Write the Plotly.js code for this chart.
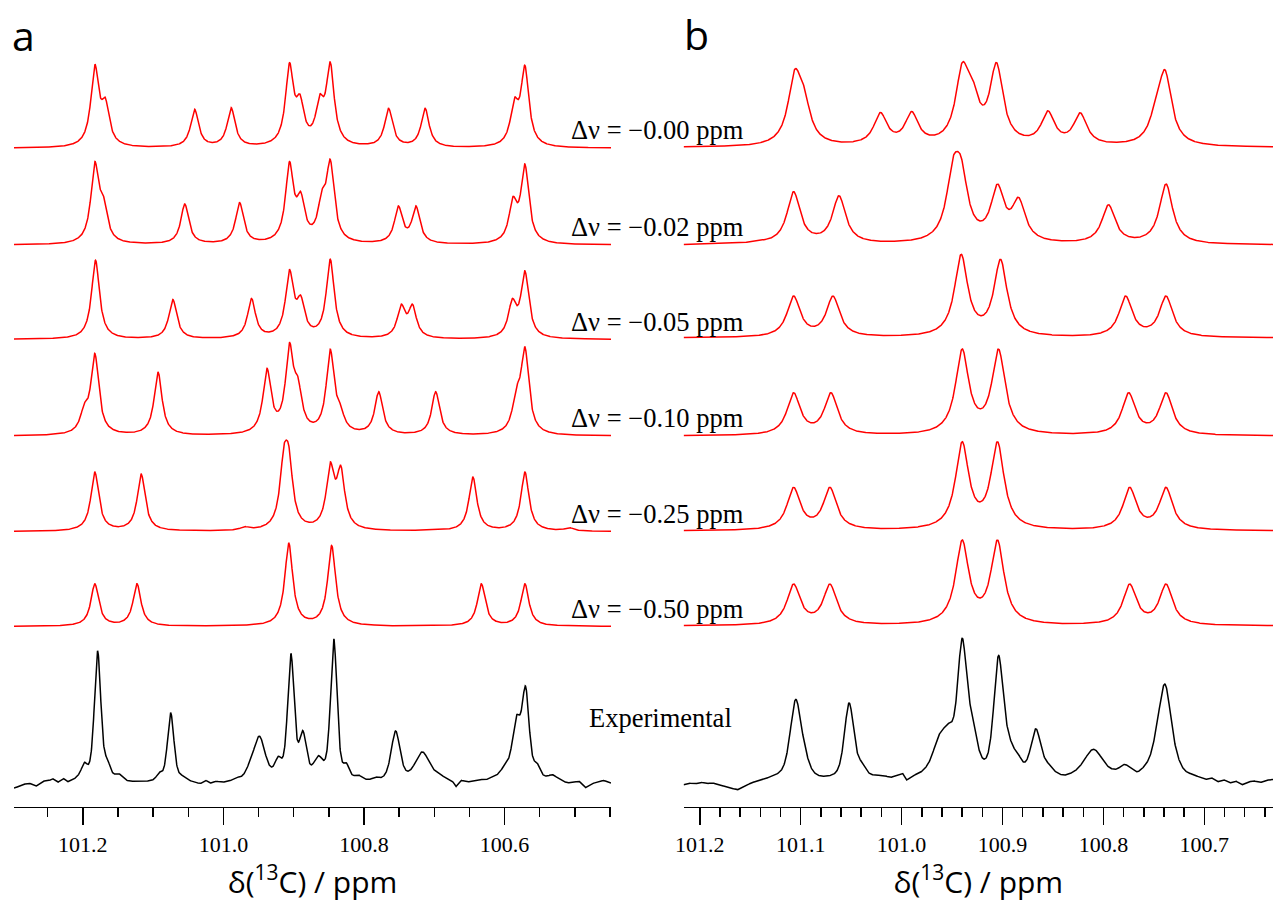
<!DOCTYPE html>
<html>
<head>
<meta charset="utf-8">
<script src="https://cdn.plot.ly/plotly-3.0.1.min.js"></script>
<style>html,body{margin:0;padding:0;background:#fff;}#chart{width:1273px;height:904px;}</style>
</head>
<body>
<div id="chart"></div>
<script>
// ================= DATA =================
// Labels of the simulated spectra
const deltaNuLabels = ["Δν = −0.00 ppm", "Δν = −0.02 ppm", "Δν = −0.05 ppm", "Δν = −0.10 ppm", "Δν = −0.25 ppm", "Δν = −0.50 ppm"];
const expLabel = "Experimental";
const panelLetters = ["a", "b"];

// Panel a, simulated spectra: peak positions (ppm) and observed peak heights (arb. units)
const simA1Pos = [101.183, 101.168, 101.041, 100.989, 100.906, 100.891, 100.863, 100.848, 100.765, 100.713, 100.586, 100.571];
const simA1Hgt = [84, 50.6, 39, 40.6, 85.6, 54, 54, 86.3, 40, 40, 50.6, 83];
const simA2Pos = [101.183, 101.171, 101.055, 100.977, 100.906, 100.890, 100.860, 100.848, 100.751, 100.726, 100.588, 100.571];
const simA2Hgt = [83.4, 50, 41, 42.4, 83.4, 53.4, 55, 85.7, 39, 39, 48.4, 81];
const simA3Pos = [101.182, 101.072, 100.960, 100.906, 100.890, 100.848, 100.747, 100.731, 100.589, 100.571];
const simA3Hgt = [79.3, 40, 41, 70, 44.3, 80.3, 35.3, 35.3, 41, 68.6];
const simA4Pos = [101.198, 101.183, 101.093, 100.938, 100.906, 100.894, 100.848, 100.834, 100.779, 100.698, 100.583, 100.571];
const simA4Hgt = [32.7, 82.7, 63.7, 67.7, 93.3, 59.3, 86.7, 32.7, 44.3, 44.3, 50, 89.3];
const simA5Pos = [101.183, 101.117, 100.970, 100.914, 100.907, 100.848, 100.833, 100.721, 100.645, 100.571, 100.508];
const simA5Hgt = [59.4, 57.4, 5, 86, 86, 69.4, 66, 1.5, 54.4, 59.4, 4];
const simA6Pos = [101.183, 101.123, 100.907, 100.846, 100.633, 100.571];
const simA6Hgt = [42.7, 42.7, 83.4, 81, 42.7, 42.7];
const simWidthA = 0.0068;   // half width at half maximum, ppm

// Panel a, experimental spectrum
const expAPos = [101.198, 101.179, 101.165, 101.149, 101.091, 101.075, 101.059, 101.026, 100.981, 100.963, 100.949, 100.922, 100.904, 100.887, 100.865, 100.843, 100.825, 100.808, 100.784, 100.755, 100.717, 100.695, 100.599, 100.583, 100.570, 100.554, 100.532];
const expAHgt = [18, 130, 23, 9, 11, 70, 8, 5, 5, 20, 46, 26, 129, 52, 27, 144, 20, 8, 6, 51, 29, 8, 16, 65, 94, 18, 6];
const expAWid = [0.005, 0.0055, 0.005, 0.006, 0.005, 0.0055, 0.006, 0.004, 0.004, 0.007, 0.010, 0.006, 0.0055, 0.006, 0.008, 0.0055, 0.005, 0.006, 0.005, 0.0075, 0.012, 0.006, 0.008, 0.007, 0.006, 0.005, 0.006];
const expABasePpm = [101.297, 101.289, 101.277, 101.267, 101.257, 101.248, 101.243, 101.236, 101.228, 101.222, 101.213, 101.207, 101.140, 101.120, 101.105, 101.042, 101.033, 101.019, 101.010, 101.002, 100.993, 100.984, 100.800, 100.790, 100.685, 100.674, 100.669, 100.662, 100.653, 100.645, 100.636, 100.627, 100.618, 100.523, 100.511, 100.502, 100.494, 100.485, 100.476, 100.467, 100.459, 100.449];
const expABaseVal = [-5.3, -2.7, -0.3, -3.7, 1.3, 1.7, 3.7, -0.3, 3.7, -0.3, 1.3, 3, 0, 0, 0, -0.3, -2.7, -2, 0.3, -1, -0.3, 1, 0, 0, 3, -0.3, -5.3, 1.3, -0.3, 0.7, 2.3, 1.3, 3, 2.3, -1, -0.3, 1.3, -5.3, -1, 0.3, 2.3, -0.3];

// Panel b, simulated spectra
const simB1Pos = [101.106, 101.097, 101.021, 100.990, 100.940, 100.930, 100.906, 100.855, 100.823, 100.748, 100.739];
const simB1Hgt = [78, 62, 35, 36, 85, 70, 85, 36.7, 34.7, 50, 77.7];
const simB2Pos = [101.143, 101.107, 101.062, 100.949, 100.941, 100.905, 100.884, 100.795, 100.738];
const simB2Hgt = [5, 53.3, 49.3, 88, 88, 61, 47.7, 40.3, 61];
const simB3Pos = [101.107, 101.068, 100.941, 100.902, 100.778, 100.738];
const simB3Hgt = [42, 42, 83.7, 78.7, 42, 42];
const simB4Pos = [101.107, 101.070, 100.940, 100.904, 100.775, 100.738];
const simB4Hgt = [43.3, 43.3, 87, 87, 43.3, 43.3];
const simB5Pos = [101.107, 101.071, 100.940, 100.905, 100.774, 100.738];
const simB5Hgt = [43.7, 43.7, 89.3, 89.3, 43.7, 43.7];
const simB6Pos = [101.107, 101.071, 100.940, 100.905, 100.774, 100.738];
const simB6Hgt = [42, 42, 86, 86, 42, 42];
const simWidthB = 0.0079;

// Panel b, experimental spectrum
const expBPos = [101.121, 101.105, 101.096, 101.052, 101.040, 100.963, 100.953, 100.940, 100.930, 100.904, 100.894, 100.885, 100.867, 100.855, 100.827, 100.810, 100.779, 100.759, 100.748, 100.739, 100.727];
const expBHgt = [8, 81, 36, 77, 18, 43, 55, 140, 63, 123, 46, 26, 50, 16, 9, 29, 15, 16, 51, 96, 26];
const expBWid = [0.006, 0.0065, 0.006, 0.0055, 0.005, 0.008, 0.007, 0.0055, 0.006, 0.0055, 0.006, 0.005, 0.006, 0.006, 0.006, 0.011, 0.007, 0.008, 0.007, 0.0075, 0.006];
const expBBasePpm = [101.216, 101.211, 101.205, 101.199, 101.193, 101.187, 101.181, 101.173, 101.163, 101.157, 101.149, 101.143, 101.137, 101.129, 101.080, 101.031, 101.023, 101.017, 101.011, 101.003, 100.999, 100.995, 100.989, 100.983, 100.977, 100.970, 100.847, 100.839, 100.833, 100.799, 100.790, 100.786, 100.770, 100.766, 100.711, 100.705, 100.699, 100.693, 100.687, 100.681, 100.675, 100.669, 100.663, 100.657, 100.651, 100.645, 100.639, 100.632];
const expBBaseVal = [-2, -0.3, -1.3, 0.3, -1, -0.3, -2.7, -4.3, -7.7, -5.3, -1, 0.3, 2, 3, 2, 4, 4.7, 5, 3, 6, 7, 0, 3.7, 4.7, 5.5, 5, 4, 3, 4, 5, 5, 4, 3, 1, 4.7, 3, 1.3, 3.7, -0.3, 2.3, -1, 1.3, -2.7, 0.3, 1.7, -0.3, 2.3, 3];

// Axis ranges (ppm)
const rangeA = [101.298, 100.4485];
const rangeB = [101.216, 100.632];

// ================= BUILD =================
const W = 1273, H = 904;
const axisPx = 806.7;                       // pixel row of the x axis lines
const baselinesA = [148.3, 245, 339.5, 436, 531.5, 626.5, 783];
const baselinesB = [147.5, 245, 338, 436, 531, 626, 783];

function lineShape(x, x0, w, eta) {
  const t = (x - x0) / w;
  return eta / (1 + t * t) + (1 - eta) * Math.exp(-Math.LN2 * t * t);
}
// component amplitudes so that the summed curve passes through the observed heights
function amplitudes(pos, hgt, wid, eta) {
  const n = pos.length;
  const M = pos.map((p, i) => pos.map((q, j) => lineShape(p, q, wid[j], eta)).concat([hgt[i]]));
  for (let c = 0; c < n; c++) {
    let piv = c;
    for (let r = c + 1; r < n; r++) if (Math.abs(M[r][c]) > Math.abs(M[piv][c])) piv = r;
    const tmp = M[c]; M[c] = M[piv]; M[piv] = tmp;
    for (let r = 0; r < n; r++) {
      if (r === c) continue;
      const f = M[r][c] / M[c][c];
      for (let k = c; k <= n; k++) M[r][k] -= f * M[c][k];
    }
  }
  return M.map((row, i) => Math.max(0, row[n] / row[i]));
}
function grid(hi, lo, step) {
  const xs = [];
  const n = Math.round((hi - lo) / step);
  for (let i = 0; i <= n; i++) xs.push(hi - (hi - lo) * i / n);
  return xs;
}
function baselineAt(x, bx, by) {
  if (x >= bx[0]) return by[0];
  for (let i = 1; i < bx.length; i++) {
    if (x >= bx[i]) { const t = (x - bx[i]) / (bx[i - 1] - bx[i]); return by[i] + t * (by[i - 1] - by[i]); }
  }
  return by[by.length - 1];
}
function spectrum(xs, pos, hgt, wid, eta, offset, bx, by) {
  const w = Array.isArray(wid) ? wid : pos.map(() => wid);
  const amp = amplitudes(pos, hgt, w, eta);
  return xs.map(x => {
    let s = 0;
    for (let j = 0; j < pos.length; j++) s += amp[j] * lineShape(x, pos[j], w[j], eta);
    if (bx) s += baselineAt(x, bx, by);
    return offset + s;
  });
}

const xsA = grid(rangeA[0], rangeA[1], 0.0004);
const xsB = grid(rangeB[0], rangeB[1], 0.0003);
const simA = [[simA1Pos, simA1Hgt], [simA2Pos, simA2Hgt], [simA3Pos, simA3Hgt], [simA4Pos, simA4Hgt], [simA5Pos, simA5Hgt], [simA6Pos, simA6Hgt]];
const simB = [[simB1Pos, simB1Hgt], [simB2Pos, simB2Hgt], [simB3Pos, simB3Hgt], [simB4Pos, simB4Hgt], [simB5Pos, simB5Hgt], [simB6Pos, simB6Hgt]];

const red = '#ff0000';
const traces = [];
simA.forEach((s, k) => traces.push({
  x: xsA, y: spectrum(xsA, s[0], s[1], simWidthA, 1, axisPx - baselinesA[k]),
  xaxis: 'x', yaxis: 'y', mode: 'lines', line: {color: red, width: 1.5}, hoverinfo: 'skip', name: deltaNuLabels[k]
}));
traces.push({
  x: xsA, y: spectrum(xsA, expAPos, expAHgt, expAWid, 0.5, axisPx - baselinesA[6], expABasePpm, expABaseVal),
  xaxis: 'x', yaxis: 'y', mode: 'lines', line: {color: '#000', width: 1.5}, hoverinfo: 'skip', name: expLabel
});
simB.forEach((s, k) => traces.push({
  x: xsB, y: spectrum(xsB, s[0], s[1], simWidthB, 1, axisPx - baselinesB[k]),
  xaxis: 'x2', yaxis: 'y2', mode: 'lines', line: {color: red, width: 1.5}, hoverinfo: 'skip', name: deltaNuLabels[k]
}));
traces.push({
  x: xsB, y: spectrum(xsB, expBPos, expBHgt, expBWid, 0.5, axisPx - baselinesB[6], expBBasePpm, expBBaseVal),
  xaxis: 'x2', yaxis: 'y2', mode: 'lines', line: {color: '#000', width: 1.5}, hoverinfo: 'skip', name: expLabel
});

const serif = '"Liberation Serif", "Times New Roman", serif';
const sans = '"Open Sans", sans-serif';
function xAxis(domain, range, dtick, minorDtick, anchor) {
  return {
    domain: domain, range: range, anchor: anchor, showline: true, linecolor: '#000', linewidth: 1.5,
    ticks: 'outside', ticklen: 17, tickwidth: 1.5, tickcolor: '#000', dtick: dtick, tick0: 101.2, tickformat: '.1f',
    showgrid: false, zeroline: false, tickfont: {family: serif, size: 22, color: '#000'},
    minor: {dtick: minorDtick, tick0: 101.2, ticks: 'outside', ticklen: 9, tickwidth: 1.5, tickcolor: '#000', showgrid: false},
    title: {text: 'δ(<sup>13</sup>C) / ppm', font: {family: sans, size: 30, color: '#000'}, standoff: 16},
    automargin: false, fixedrange: true
  };
}
const yDom = [1 - axisPx / H, 1];
const yAx = a => ({domain: yDom, range: [0, axisPx], visible: false, fixedrange: true, anchor: a});

const labelCenters = [130.3, 227, 321.5, 418, 513.5, 608.5];
const annotations = labelCenters.map((c, k) => ({
  xref: 'paper', yref: 'paper', x: 746 / W, y: 1 - c / H, xanchor: 'right', yanchor: 'middle',
  text: deltaNuLabels[k], showarrow: false, font: {family: serif, size: 26.5, color: '#000'}
}));
annotations.push({xref: 'paper', yref: 'paper', x: 660.5 / W, y: 1 - 718 / H, xanchor: 'center', yanchor: 'middle',
  text: expLabel, showarrow: false, font: {family: serif, size: 26.5, color: '#000'}});
annotations.push({xref: 'paper', yref: 'paper', x: 10 / W, y: 1 - 35 / H, xanchor: 'left', yanchor: 'middle',
  text: panelLetters[0], showarrow: false, font: {family: sans, size: 41, color: '#000'}});
annotations.push({xref: 'paper', yref: 'paper', x: 682 / W, y: 1 - 34 / H, xanchor: 'left', yanchor: 'middle',
  text: panelLetters[1], showarrow: false, font: {family: sans, size: 41, color: '#000'}});

const layout = {
  width: W, height: H, margin: {l: 0, r: 0, t: 0, b: 0, pad: 0},
  font: {family: serif, size: 22, color: '#000'},
  paper_bgcolor: '#fff', plot_bgcolor: 'rgba(0,0,0,0)', showlegend: false,
  xaxis: xAxis([14 / W, 611 / W], rangeA, 0.2, 0.05, 'y'),
  yaxis: yAx('x'),
  xaxis2: xAxis([683.6 / W, 1], rangeB, 0.1, 0.02, 'y2'),
  yaxis2: yAx('x2'),
  annotations: annotations
};
Plotly.newPlot('chart', traces, layout, {displayModeBar: false, staticPlot: true});
</script>
</body>
</html>
